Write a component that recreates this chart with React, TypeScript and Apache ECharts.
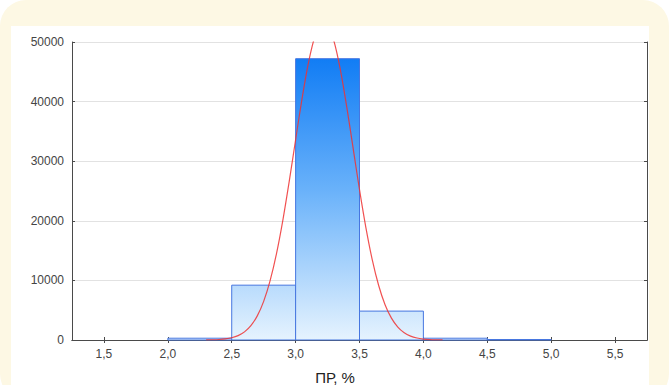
import React, { useEffect, useRef } from "react";
import * as echarts from "echarts";

const binStarts = [2.0, 2.5, 3.0, 3.5, 4.0, 4.5];
const binEnds = [2.5, 3.0, 3.5, 4.0, 4.5, 5.0];
const binCounts = [300, 9200, 47200, 4850, 300, 80];

const xTickValues = [1.5, 2.0, 2.5, 3.0, 3.5, 4.0, 4.5, 5.0, 5.5];

const curveX = [
  2.3, 2.35, 2.4, 2.45, 2.5, 2.55, 2.6, 2.65, 2.7, 2.75, 2.8, 2.85, 2.9, 2.95,
  3.0, 3.05, 3.1, 3.15, 3.2, 3.25, 3.3, 3.35, 3.4, 3.45, 3.5, 3.55, 3.6, 3.65,
  3.7, 3.75, 3.8, 3.85, 3.9, 3.95, 4.0, 4.05, 4.1, 4.15,
];
const curveY = [
  17, 39, 88, 187, 381, 739, 1366, 2408, 4048, 6488, 9920, 14455, 20080, 26600,
  33600, 40470, 46460, 50870, 53100, 52850, 50150, 45370, 39140, 32190, 25240,
  18870, 13450, 9150, 5930, 3663, 2158, 1211, 649, 332, 161, 75, 33, 14,
];

export default function App() {
  const ref = useRef<HTMLDivElement>(null);
  useEffect(() => {
    document.body.style.margin = "0";
    const chart = echarts.init(ref.current!, null, { renderer: "svg" });
    const gridTop = 42;
    const gridBottomY = 340;
    const frame = "#4a4a4a";
    const label = { color: "#444444", fontSize: 12, fontFamily: "Liberation Sans, Arial, sans-serif" };
    chart.setOption({
      animation: false,
      backgroundColor: "#ffffff",
      graphic: [
        {
          type: "rect",
          z: -10,
          silent: true,
          shape: { x: 0, y: 0, width: 669, height: 400, r: 26 },
          style: { fill: "#fdf8e4" },
        },
        {
          type: "rect",
          z: -9,
          silent: true,
          shape: { x: 11, y: 26, width: 638, height: 370 },
          style: { fill: "#ffffff" },
        },
        {
          type: "text",
          x: 335,
          y: 377,
          style: {
            text: "ПР, %",
            fill: "#222222",
            fontSize: 15,
            fontFamily: "Liberation Sans, Arial, sans-serif",
            align: "center",
            verticalAlign: "middle",
          },
        },
      ],
      grid: { left: 72, top: gridTop, width: 575, height: gridBottomY - gridTop },
      xAxis: [
        {
          type: "value",
          min: 1.25,
          max: 5.75,
          position: "bottom",
          axisLine: { show: true, lineStyle: { color: frame, width: 1 } },
          axisTick: { show: true, inside: true, length: 3, customValues: xTickValues, lineStyle: { color: frame } },
          axisLabel: {
            ...label,
            margin: 8,
            customValues: xTickValues,
            formatter: (v: number) => v.toFixed(1).replace(".", ","),
          },
          splitLine: { show: false },
        },
        {
          type: "value",
          min: 1.25,
          max: 5.75,
          position: "top",
          axisLine: { show: true, lineStyle: { color: frame, width: 1 } },
          axisTick: { show: true, inside: true, length: 3, customValues: xTickValues, lineStyle: { color: frame } },
          axisLabel: { show: false },
          splitLine: { show: false },
        },
      ],
      yAxis: [
        {
          type: "value",
          min: 0,
          max: 50000,
          interval: 10000,
          position: "left",
          axisLine: { show: true, lineStyle: { color: frame, width: 1 } },
          axisTick: { show: true, inside: true, length: 3, lineStyle: { color: frame } },
          axisLabel: { ...label, margin: 8, formatter: (v: number) => String(v) },
          splitLine: { show: true, lineStyle: { color: "#e2e2e2", width: 1 } },
        },
        {
          type: "value",
          min: 0,
          max: 50000,
          interval: 10000,
          position: "right",
          axisLine: { show: true, lineStyle: { color: frame, width: 1 } },
          axisTick: { show: true, inside: true, length: 3, lineStyle: { color: frame } },
          axisLabel: { show: false },
          splitLine: { show: false },
        },
      ],
      series: [
        {
          type: "custom",
          xAxisIndex: 0,
          yAxisIndex: 0,
          z: 2,
          data: binStarts.map((s, i) => [s, binEnds[i], binCounts[i]]),
          encode: { x: [0, 1], y: 2 },
          renderItem: (params: any, api: any) => {
            const p0 = api.coord([api.value(0), api.value(2)]);
            const p1 = api.coord([api.value(1), 0]);
            const top = api.coord([1.25, 50000])[1];
            const bottom = api.coord([1.25, 0])[1];
            return {
              type: "rect",
              shape: { x: p0[0], y: p0[1], width: p1[0] - p0[0], height: p1[1] - p0[1] },
              style: {
                fill: {
                  type: "linear",
                  x: 0,
                  y: top,
                  x2: 0,
                  y2: bottom,
                  global: true,
                  colorStops: [
                    { offset: 0, color: "#0676f4" },
                    { offset: 0.5, color: "#6ab2fa" },
                    { offset: 1, color: "#e6f3fe" },
                  ],
                },
                stroke: "#4676e0",
                lineWidth: 1,
              },
            };
          },
        },
        {
          type: "line",
          xAxisIndex: 0,
          yAxisIndex: 0,
          z: 3,
          data: curveX.map((x, i) => [x, curveY[i]]),
          showSymbol: false,
          symbol: "none",
          smooth: 0.3,
          clip: true,
          lineStyle: { color: "rgba(238, 50, 50, 0.85)", width: 1.2 },
        },
      ],
    });
    return () => chart.dispose();
  }, []);
  return <div ref={ref} style={{ width: 669, height: 385 }} />;
}
